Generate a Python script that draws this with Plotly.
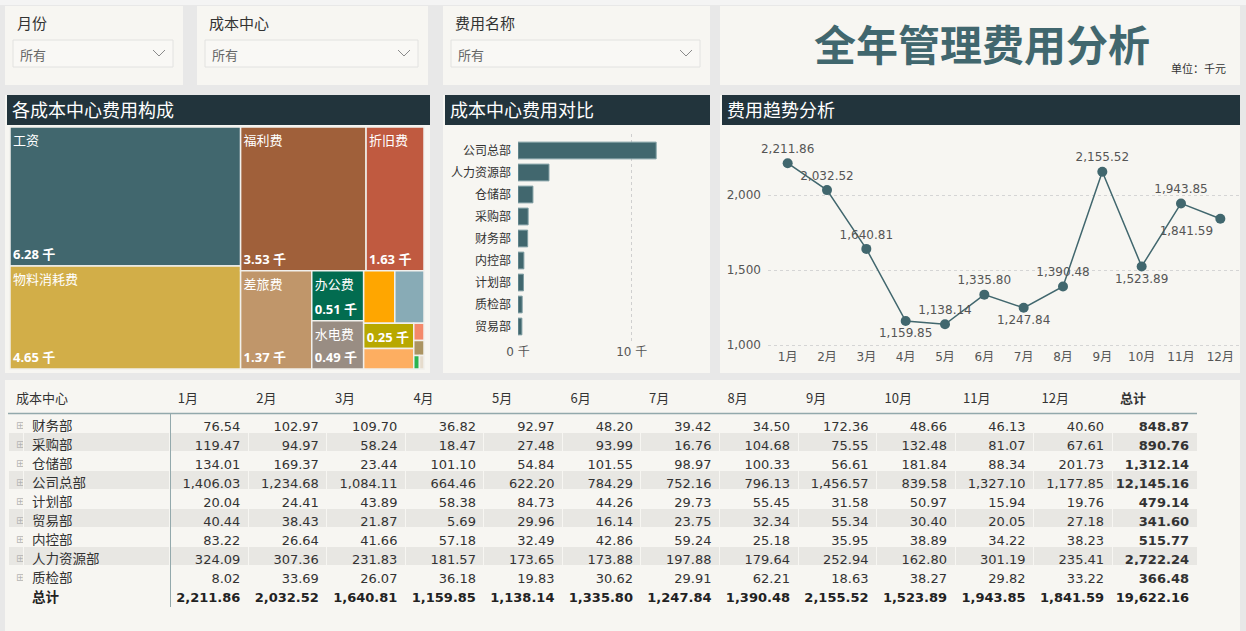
import plotly.graph_objects as go

W, H = 1246, 631
def X(p):
    return p / W
def Y(p):
    return 1 - p / H

FONT = "Noto Sans, Noto Sans CJK SC, sans-serif"
NUM = "DejaVu Sans, Noto Sans CJK SC, sans-serif"
CJK = "Noto Sans CJK SC, Noto Sans, sans-serif"
BG = "#e8e8e8"
PANEL = "#f7f6f2"
ROWGRAY = "#e8e7e3"
DARK = "#22343c"
TEAL = "#41676e"

# ---------------- data ----------------
months = ["1月", "2月", "3月", "4月", "5月", "6月", "7月", "8月", "9月", "10月", "11月", "12月"]
centers = ["财务部", "采购部", "仓储部", "公司总部", "计划部", "贸易部", "内控部", "人力资源部", "质检部"]
cost_财务部 = [76.54, 102.97, 109.70, 36.82, 92.97, 48.20, 39.42, 34.50, 172.36, 48.66, 46.13, 40.60]
cost_采购部 = [119.47, 94.97, 58.24, 18.47, 27.48, 93.99, 16.76, 104.68, 75.55, 132.48, 81.07, 67.61]
cost_仓储部 = [134.01, 169.37, 23.44, 101.10, 54.84, 101.55, 98.97, 100.33, 56.61, 181.84, 88.34, 201.73]
cost_公司总部 = [1406.03, 1234.68, 1084.11, 664.46, 622.20, 784.29, 752.16, 796.13, 1456.57, 839.58, 1327.10, 1177.85]
cost_计划部 = [20.04, 24.41, 43.89, 58.38, 84.73, 44.26, 29.73, 55.45, 31.58, 50.97, 15.94, 19.76]
cost_贸易部 = [40.44, 38.43, 21.87, 5.69, 29.96, 16.14, 23.75, 32.34, 55.34, 30.40, 20.05, 27.18]
cost_内控部 = [83.22, 26.64, 41.66, 57.18, 32.49, 42.86, 59.24, 25.18, 35.95, 38.89, 34.22, 38.23]
cost_人力资源部 = [324.09, 307.36, 231.83, 181.57, 173.65, 173.88, 197.88, 179.64, 252.94, 162.80, 301.19, 235.41]
cost_质检部 = [8.02, 33.69, 26.07, 36.18, 19.83, 30.62, 29.91, 62.21, 18.63, 38.27, 29.82, 33.22]
center_rows = [cost_财务部, cost_采购部, cost_仓储部, cost_公司总部, cost_计划部,
               cost_贸易部, cost_内控部, cost_人力资源部, cost_质检部]
center_totals = [848.87, 890.76, 1312.14, 12145.16, 479.14, 341.60, 515.77, 2722.24, 366.48]
month_totals = [2211.86, 2032.52, 1640.81, 1159.85, 1138.14, 1335.80, 1247.84, 1390.48,
                2155.52, 1523.89, 1943.85, 1841.59]
grand_total = 19622.16

expense_names = ["工资", "物料消耗费", "福利费", "折旧费", "差旅费", "办公费", "水电费",
                 "通讯费", "招待费", "医疗保险费", "培训费", "会议费", "交通费", "保险费", "其他费用"]
expense_values = [6280, 4650, 3530, 1630, 1370, 510, 490, 320, 300, 250, 200, 35, 30, 15, 12]
expense_colors = ["#41676e", "#d2ae48", "#a0603a", "#c05a40", "#c0966a", "#026c50", "#998d83",
                  "#ffa600", "#88abb6", "#b8a800", "#fdae61", "#f4896a", "#ab9462", "#2db450", "#e6dccd"]

bar_ticks = [0, 10000]
bar_ticktext = ["0 千", "10 千"]
line_ticks = [1000, 1500, 2000]
line_text_pos = ["top center", "top center", "top center", "bottom center", "top center", "top center",
                 "bottom center", "top center", "top center", "bottom center", "top center", "bottom left"]

# ---------------- figure ----------------
fig = go.Figure()

# Treemap: labels (top-left) and values (bottom-left, overlay)
tm_domain = dict(x=[X(10), X(424)], y=[Y(369), Y(127)])
value_text = [f"{v/1000:.2f} 千" for v in expense_values]
fig.add_trace(go.Treemap(
    labels=expense_names, parents=[""] * len(expense_names), values=expense_values,
    marker=dict(colors=expense_colors, line=dict(color="#f1f0ec", width=1.5),
                pad=dict(t=0, l=0, r=0, b=0)),
    tiling=dict(squarifyratio=1.618, pad=0),
    textposition="top left", texttemplate="%{label}",
    textfont=dict(color="white", size=13, family=CJK),
    pathbar=dict(visible=False), sort=True, domain=tm_domain,
    hovertemplate="%{label}: %{value}<extra></extra>",
))
fig.add_trace(go.Treemap(
    labels=expense_names, parents=[""] * len(expense_names), values=expense_values,
    text=value_text,
    marker=dict(colors=["rgba(0,0,0,0)"] * len(expense_names), line=dict(width=0),
                pad=dict(t=0, l=0, r=0, b=0)),
    tiling=dict(squarifyratio=1.618, pad=0),
    textposition="bottom left", texttemplate="%{text}",
    textfont=dict(color="white", size=13, family=FONT, weight="bold"),
    pathbar=dict(visible=False), sort=True, domain=tm_domain, hoverinfo="none",
))

# Bar chart
order = sorted(range(len(centers)), key=lambda i: -center_totals[i])
fig.add_trace(go.Bar(
    x=[center_totals[i] for i in order], y=[centers[i] for i in order], orientation="h",
    marker=dict(color=TEAL, line=dict(color="#7d9ca1", width=1)), width=0.76,
    xaxis="x", yaxis="y", hovertemplate="%{y}: %{x:,.2f}<extra></extra>",
))

# Line chart
fig.add_trace(go.Scatter(
    x=months, y=month_totals, mode="lines+markers+text",
    line=dict(color=TEAL, width=1.5), marker=dict(color=TEAL, size=10),
    text=[f"{v:,.2f}" for v in month_totals], textposition=line_text_pos,
    textfont=dict(size=12, color="#555555", family=NUM), cliponaxis=False,
    xaxis="x2", yaxis="y2", hovertemplate="%{x}: %{y:,.2f}<extra></extra>",
))

# Table (body rows)
def fmt(v):
    return f"{v:,.2f}"
col_widths = [16, 146] + [78.6] * 12 + [85]
cols = [["⊞"] * len(centers), list(centers)]
for m in range(12):
    cols.append([fmt(r[m]) for r in center_rows])
cols.append([fmt(v) for v in center_totals])
nrows = len(centers)
row_fill = [PANEL if i % 2 == 0 else ROWGRAY for i in range(nrows)]
ncol = len(cols)
fig.add_trace(go.Table(
    domain=dict(x=[X(8), X(1197)], y=[Y(590), Y(385)]),
    columnwidth=col_widths,
    header=dict(values=["", ""] + months + ["总计"], align="left",
                fill=dict(color=PANEL), line=dict(color=PANEL, width=1),
                font=dict(size=13, color="#333333", family=CJK,
                          weight=["normal"] * (ncol - 1) + ["bold"]), height=28),
    cells=dict(values=cols, align=["left", "left"] + ["right"] * 13,
               fill=dict(color=[row_fill] * ncol), line=dict(color=PANEL, width=1),
               font=dict(size=[10, 13.5] + [13] * (ncol - 2),
                         color=["#b5b5b5"] + ["#333333"] * (ncol - 1),
                         family=[NUM, CJK] + [NUM] * (ncol - 2),
                         weight=["normal"] * (ncol - 1) + ["bold"]), height=19),
))
# Table (total row)
total_cols = [[""], ["总计"]] + [[fmt(v)] for v in month_totals] + [[fmt(grand_total)]]
fig.add_trace(go.Table(
    domain=dict(x=[X(8), X(1197)], y=[0, Y(568)]),
    columnwidth=col_widths,
    header=dict(values=[], height=0, fill=dict(color="rgba(0,0,0,0)"),
                line=dict(color="rgba(0,0,0,0)", width=0)),
    cells=dict(values=total_cols, align=["left", "left"] + ["right"] * 13,
               fill=dict(color=PANEL), line=dict(color=PANEL, width=1),
               font=dict(size=[13, 13.5] + [13] * 13, color="#222222",
                         family=[NUM, CJK] + [NUM] * 13, weight="bold"), height=19),
))

# ---------------- layout decoration ----------------
shapes = []
def rect(x0, y0, x1, y1, color, layer="below"):
    shapes.append(dict(type="rect", xref="paper", yref="paper", x0=X(x0), x1=X(x1),
                       y0=Y(y1), y1=Y(y0), fillcolor=color, line=dict(width=0), layer=layer))

rect(0, 0, 1246, 5, "#f4f4f4")
# filter panels
filters = [("月份", 5, 183), ("成本中心", 197, 428), ("费用名称", 443, 710)]
annotations = []
for name, a, b in filters:
    rect(a, 6, b, 85, PANEL)
    shapes.append(dict(type="rect", xref="paper", yref="paper", x0=X(a + 8), x1=X(b - 10),
                       y0=Y(67), y1=Y(40), fillcolor="#f9f8f5",
                       line=dict(color="#e2e2e0", width=1), layer="below"))
    cx = b - 24
    shapes.append(dict(type="path", xref="paper", yref="paper",
                       path=f"M {X(cx-6)},{Y(50)} L {X(cx)},{Y(56)} L {X(cx+6)},{Y(50)}",
                       line=dict(color="#8a8a8a", width=1), layer="below"))
    annotations.append(dict(text=name, x=X(a + 10), y=Y(22), xref="paper", yref="paper",
                            xanchor="left", yanchor="middle", showarrow=False,
                            font=dict(size=15, color="#333333", family=CJK)))
    annotations.append(dict(text="所有", x=X(a + 13), y=Y(54), xref="paper", yref="paper",
                            xanchor="left", yanchor="middle", showarrow=False,
                            font=dict(size=13, color="#666666", family=CJK)))
# title panel
rect(720, 6, 1240, 85, PANEL)
annotations.append(dict(text="<b>全年管理费用分析</b>", x=X(982), y=Y(42), xref="paper", yref="paper",
                        xanchor="center", yanchor="middle", showarrow=False,
                        font=dict(size=42, color=TEAL, family=CJK)))
annotations.append(dict(text="单位：千元", x=X(1228), y=Y(68), xref="paper", yref="paper",
                        xanchor="right", yanchor="middle", showarrow=False,
                        font=dict(size=11, color="#333333", family=CJK)))
# chart panels
panels = [("各成本中心费用构成", 5, 430), ("成本中心费用对比", 443, 710), ("费用趋势分析", 720, 1240)]
for name, a, b in panels:
    rect(a, 95, b, 373, PANEL)
    rect(a + 2, 95, b, 125, DARK)
    annotations.append(dict(text=name, x=X(a + 5), y=Y(109), xref="paper", yref="paper",
                            xanchor="left", yanchor="middle", showarrow=False,
                            font=dict(size=18, color="white", family=CJK)))
# table panel
rect(5, 380, 1240, 631, PANEL)
annotations.append(dict(text="成本中心", x=X(14), y=Y(397), xref="paper", yref="paper",
                        xanchor="left", yanchor="middle", showarrow=False,
                        font=dict(size=13, color="#333333", family=CJK)))
shapes.append(dict(type="line", xref="paper", yref="paper", x0=X(8), x1=X(1197),
                   y0=Y(413.5), y1=Y(413.5), line=dict(color="#93a9ac", width=1.5), layer="above"))
shapes.append(dict(type="line", xref="paper", yref="paper", x0=X(170.5), x1=X(170.5),
                   y0=Y(414), y1=Y(607), line=dict(color="#93a9ac", width=1), layer="above"))

fig.update_layout(
    width=W, height=H, margin=dict(l=0, r=0, t=0, b=0, autoexpand=False),
    paper_bgcolor=BG, plot_bgcolor="rgba(0,0,0,0)",
    showlegend=False, shapes=shapes, annotations=annotations,
    font=dict(family=FONT, color="#333333"),
    uniformtext=dict(minsize=13, mode="hide"),
    xaxis=dict(domain=[X(518), X(700)], range=[0, 16000], tickvals=bar_ticks, ticktext=bar_ticktext,
               showgrid=True, gridcolor="#cfcfcf", griddash="dot", zeroline=False, automargin=False,
               tickfont=dict(size=12, color="#555555", family=NUM), ticks="", anchor="y",
               fixedrange=True),
    yaxis=dict(domain=[Y(343), Y(134)], range=[8.75, -0.75], showgrid=False, zeroline=False,
               tickfont=dict(size=12, color="#333333", family=CJK), ticks="", automargin=False,
               ticklabelstandoff=6, anchor="x", fixedrange=True),
    xaxis2=dict(domain=[X(768), X(1240)], range=[-0.5, 11.5], showgrid=False, zeroline=False,
                tickfont=dict(size=12, color="#555555", family=NUM), ticks="", anchor="y2",
                automargin=False, fixedrange=True),
    yaxis2=dict(domain=[Y(348), Y(135)], range=[980, 2400], tickvals=line_ticks, tickformat=",",
                showgrid=True, gridcolor="#d5d5d5", griddash="dot", zeroline=False,
                tickfont=dict(size=12, color="#555555", family=NUM), ticks="", automargin=False,
                ticklabelstandoff=6, anchor="x2", fixedrange=True),
)

fig.write_html("out.html", config={"displayModeBar": False},
               post_script="document.body.style.margin='0px';document.body.style.overflow='hidden';")
